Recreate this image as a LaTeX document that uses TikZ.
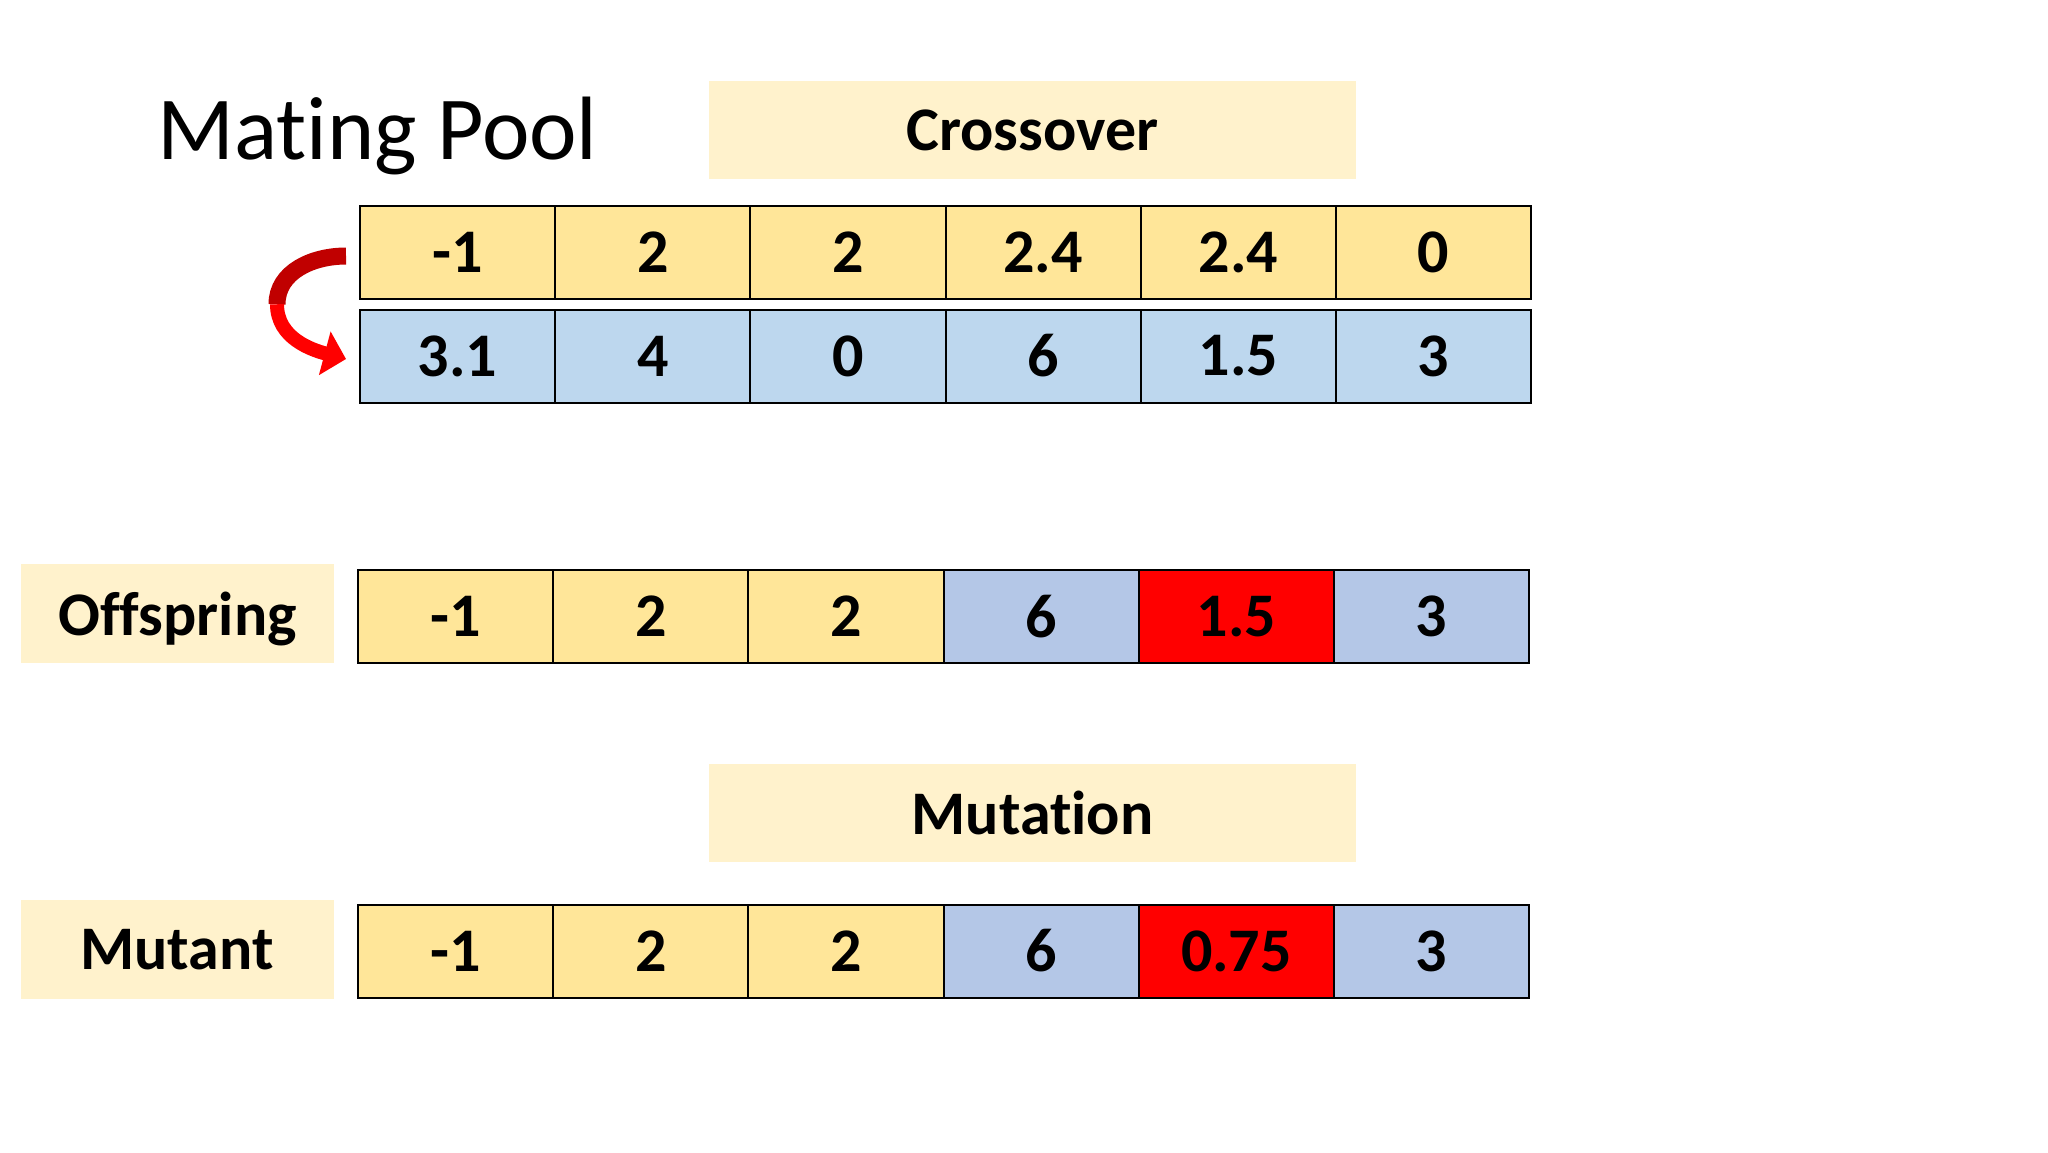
\documentclass[tikz,border=0pt]{standalone}
\usepackage{fontspec}
\setmainfont[Ligatures=NoCommon]{Carlito}
\usetikzlibrary{arrows.meta,calc}
\definecolor{ylwcolor}{HTML}{FFE699}
\definecolor{tagcolor}{HTML}{FFF2CC}
\definecolor{skycolor}{HTML}{BDD7EE}
\definecolor{grycolor}{HTML}{B4C7E7}
\definecolor{redcolor}{HTML}{FF0000}
\definecolor{darkredcolor}{HTML}{C00000}

\tikzset{
  cell/.style={draw,line width=1pt,minimum width=97.6pt,minimum height=46.5pt,inner sep=0pt,font=\fontsize{31}{36}\selectfont\bfseries},
  tag/.style={fill=tagcolor,inner sep=0pt,text depth=0pt,font=\fontsize{31}{36}\selectfont\bfseries},
}

\begin{document}
\begin{tikzpicture}[x=0.5pt,y=-0.5pt]
\useasboundingbox (0,0) rectangle (2048,1152);
\fill[white] (0,0) rectangle (2048,1152);

\node[anchor=base west,inner sep=0pt,font=\fontsize{45}{54}\selectfont] (title) at (157,159) {Mating Pool};

\begin{scope}[every node/.style={tag,minimum width=323.5pt,minimum height=49pt}]
\node (cross) at (1032.5,130) {Crossover};
\node (mut) at (1032.5,813) {Mutation};
\end{scope}
\begin{scope}[every node/.style={tag,minimum width=156.5pt,minimum height=49.5pt}]
\node (off) at (177.5,613.5) {Offspring};
\node (mnt) at (177,949) {Mutant};
\end{scope}

% parents
\foreach \v [count=\i] in {-1,2,2,2.4,2.4,0}
  \node[cell,fill=ylwcolor] (a\i) at ({360+195.2*(\i-0.5)},252.5) {\v};
\foreach \v [count=\i] in {3.1,4,0,6,1.5,3}
  \node[cell,fill=skycolor] (b\i) at ({360+195.2*(\i-0.5)},356) {\v};

% offspring and mutant
\foreach \v/\c [count=\i] in {-1/ylwcolor,2/ylwcolor,2/ylwcolor,6/grycolor,1.5/redcolor,3/grycolor}
  \node[cell,fill=\c] (o\i) at ({358+195.2*(\i-0.5)},616.5) {\v};
\foreach \v/\c [count=\i] in {-1/ylwcolor,2/ylwcolor,2/ylwcolor,6/grycolor,0.75/redcolor,3/grycolor}
  \node[cell,fill=\c] (m\i) at ({358+195.2*(\i-0.5)},951) {\v};

% swap arrow
\coordinate (bend) at ($(a1.west)!0.5!(b1.west)+(-41pt,0)$);
\draw[line width=8.5pt,darkredcolor] ([xshift=-6.5pt,yshift=-1.75pt]a1.west) to[out=180,in=90] (bend);
\draw[line width=7pt,redcolor,-{Triangle[length=11pt,width=22pt]}] (bend) to[out=-90,in=165] ([xshift=-6.5pt,yshift=-1.5pt]b1.west);
\end{tikzpicture}
\end{document}
